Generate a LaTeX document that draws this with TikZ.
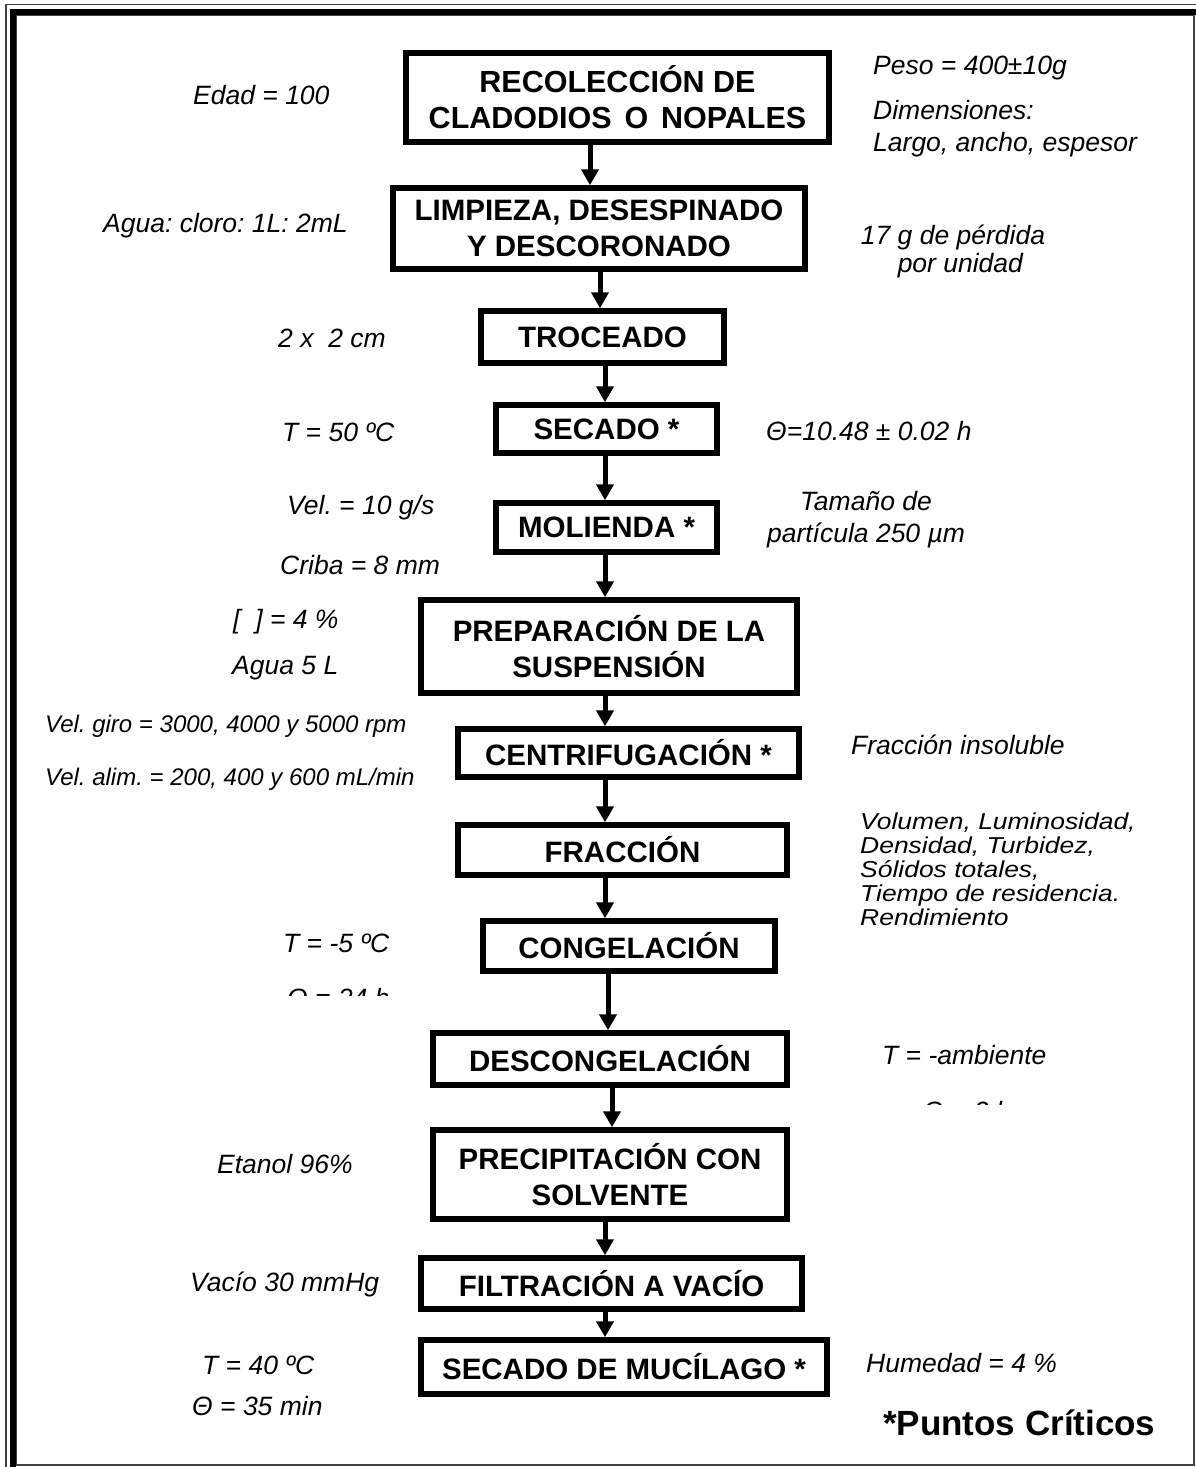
\documentclass[tikz,border=0pt]{standalone}
\usepackage{fontspec}
\usepackage{graphicx}
\setmainfont{Liberation Sans}
\usetikzlibrary{arrows.meta}
\frenchspacing
\begin{document}
\begin{tikzpicture}[x=1pt,y=-1pt,
  box/.style={draw, line width=5.5pt, font=\fontsize{29.5}{36}\selectfont\bfseries, align=center, inner sep=0pt},
  lab/.style={font=\fontsize{26.5}{28}\selectfont\itshape, inner sep=0pt},
  labs/.style={font=\fontsize{24}{28}\selectfont\itshape, inner sep=0pt},
  arr/.style={line width=5pt, -{Triangle[width=17pt,length=16pt]}},
  frthin/.style={line width=1.3pt, black!75},
  frthick/.style={line width=6pt, black}]
\useasboundingbox (0,0) rectangle (1196,1467);
% frame
\draw[frthin] (16,15.5) rectangle (1194,1465);
\draw[frthin] (6,1467) -- (6,4.5) -- (1196,4.5);
\draw[frthick] (13,1467) -- (13,12) -- (1196,12);

% boxes
\node[box, minimum width=423, minimum height=89, font=\fontsize{30.5}{36}\selectfont\bfseries] (b1) at (617.5,97.5) {RECOLECCIÓN DE\\CLADODIOS\hspace{0.42em}O\hspace{0.42em}NOPALES};
\node[box, minimum width=412, minimum height=81] (b2) at (599,228.5) {LIMPIEZA, DESESPINADO\\Y DESCORONADO};
\node[box, minimum width=243, minimum height=52] (b3) at (602.5,337) {TROCEADO};
\node[box, minimum width=221, minimum height=48] (b4) at (606.5,429) {SECADO *};
\node[box, minimum width=221, minimum height=49] (b5) at (606.5,527.5) {MOLIENDA *};
\node[box, minimum width=376, minimum height=93] (b6) at (609,646.5) {PREPARACIÓN DE LA\\SUSPENSIÓN};
\node[box, minimum width=341, minimum height=48] (b7) at (628.5,753) {CENTRIFUGACIÓN *};
\node[box, minimum width=329, minimum height=50] (b8) at (622.5,850) {FRACCIÓN};
\node[box, minimum width=292, minimum height=50] (b9) at (629,946) {CONGELACIÓN};
\node[box, minimum width=354, minimum height=52] (b10) at (610,1059) {DESCONGELACIÓN};
\node[box, minimum width=354, minimum height=89] (b11) at (610,1174.5) {PRECIPITACIÓN CON\\SOLVENTE};
\node[box, minimum width=381, minimum height=51] (b12) at (611.5,1283.5) {FILTRACIÓN A VACÍO};
\node[box, minimum width=406, minimum height=54] (b13) at (624,1367) {SECADO DE MUCÍLAGO *};

% arrows
\coordinate (xa) at (590,0);
\coordinate (xb) at (600,0);
\coordinate (xc) at (605,0);
\coordinate (xd) at (608,0);
\coordinate (xe) at (612,0);
\draw[arr] (b1.south -| xa) -- (b2.north -| xa);
\draw[arr] (b2.south -| xb) -- (b3.north -| xb);
\draw[arr] (b3.south -| xc) -- (b4.north -| xc);
\draw[arr] (b4.south -| xc) -- (b5.north -| xc);
\draw[arr] (b5.south -| xc) -- (b6.north -| xc);
\draw[arr] (b6.south -| xc) -- (b7.north -| xc);
\draw[arr] (b7.south -| xc) -- (b8.north -| xc);
\draw[arr] (b8.south -| xc) -- (b9.north -| xc);
\draw[arr] (b9.south -| xd) -- (b10.north -| xd);
\draw[arr] (b10.south -| xe) -- (b11.north -| xe);
\draw[arr] (b11.south -| xc) -- (b12.north -| xc);
\draw[arr] (b12.south -| xc) -- (b13.north -| xc);

% left labels
\node[lab, anchor=west] (l1) at (193,95) {Edad = 100};
\node[lab, anchor=west] (l2) at (103,226) {Agua: cloro: 1L: 2mL};
\node[lab, anchor=west] (l3) at (278,338) {2 x\ \ 2 cm};
\node[lab, anchor=west] (l4) at (282,432) {T = 50 ºC};
\node[lab, anchor=west] (l5) at (287,508) {Vel. = 10 g/s};
\node[lab, anchor=west] (l6) at (280,565) {Criba = 8 mm};
\node[lab, anchor=west] (l7) at (233,622) {[\ \ ] = 4 \%};
\node[lab, anchor=west] (l8) at (232,668) {Agua 5 L};
\node[labs, anchor=west] (l9) at (45,726) {Vel. giro = 3000, 4000 y 5000 rpm};
\node[labs, anchor=west] (l10) at (45,779) {Vel. alim. = 200, 400 y 600 mL/min};
\node[lab, anchor=west] (l11) at (283,943) {T = -5 ºC};
\begin{scope}
\clip (250,980) rectangle (450,995);
\node[lab, anchor=west] (l12) at (287,998) {Θ = 24 h};
\end{scope}
\node[lab, anchor=west] (l13) at (217,1164) {Etanol 96\%};
\node[lab, anchor=west] (l14) at (190,1284) {Vacío 30 mmHg};
\node[lab, anchor=west] (l15) at (202,1365) {T = 40 ºC};
\node[lab, anchor=west] (l16) at (192,1406) {Θ = 35 min};

% right labels
\node[lab, anchor=west] (r1) at (873,68) {Peso = 400±10g};
\node[lab, anchor=west] (r2) at (873,110) {Dimensiones:};
\node[lab, anchor=west] (r3) at (873,145) {Largo, ancho, espesor};
\node[lab, align=center] (r4) at (953,251) {17 g de pérdida\\\ \ por unidad};
\node[lab, anchor=west] (r5) at (766,431) {Θ=10.48 ± 0.02 h};
\node[lab, align=center, font=\fontsize{26.5}{32}\selectfont\itshape] (r6) at (866,520) {Tamaño de\\partícula 250 µm};
\node[lab, anchor=west] (r7) at (851,745) {Fracción insoluble};
\node[lab, anchor=west, font=\fontsize{23}{24}\selectfont\itshape] (r8) at (860,873) {\scalebox{1.15}[1]{\begin{tabular}{@{}l@{}}Volumen, Luminosidad,\\Densidad, Turbidez,\\Sólidos totales,\\Tiempo de residencia.\\Rendimiento\end{tabular}}};
\node[lab, anchor=west] (r9) at (882,1055) {T = -ambiente};
\begin{scope}
\clip (880,1095) rectangle (1060,1104);
\node[lab, anchor=west] (r10) at (923,1111) {Θ = 2 h};
\end{scope}
\node[lab, anchor=west] (r11) at (866,1363) {Humedad = 4 \%};
\node[anchor=west, inner sep=0pt, font=\fontsize{35}{40}\selectfont\bfseries] (pc) at (883,1423) {*Puntos Críticos};
\end{tikzpicture}
\end{document}
